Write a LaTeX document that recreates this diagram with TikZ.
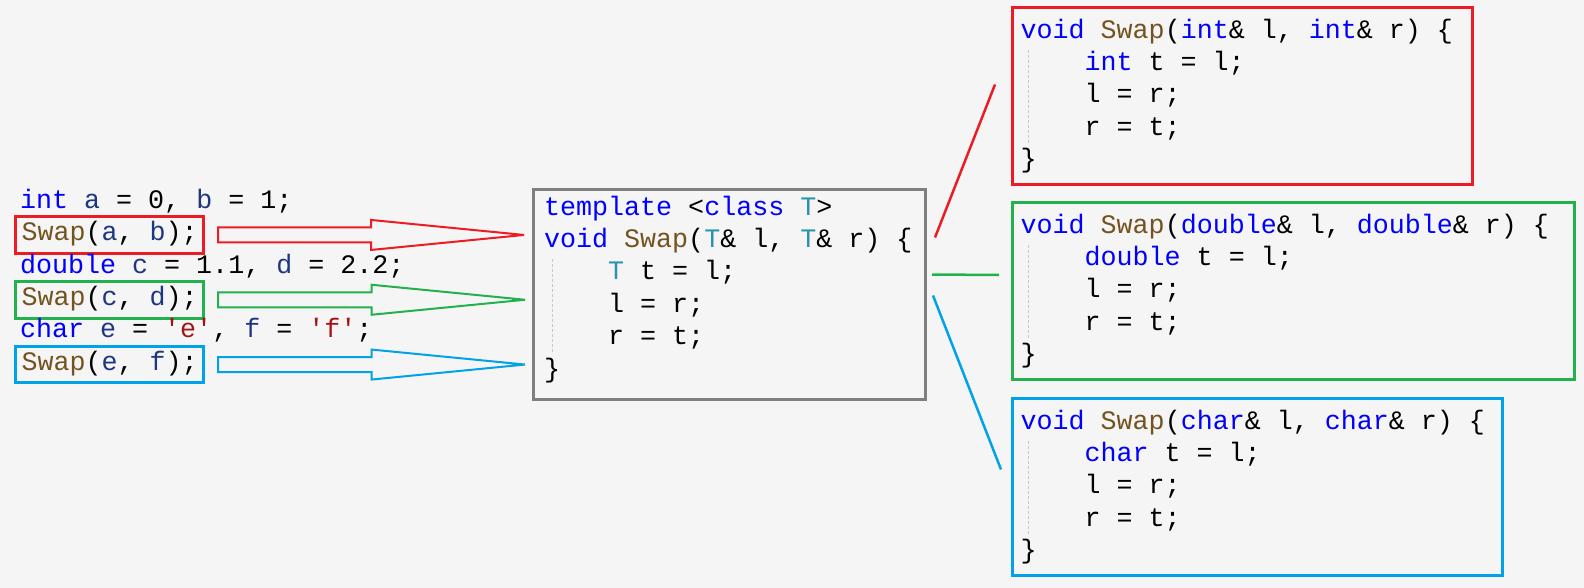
\documentclass[tikz,border=0pt]{standalone}
\usepackage{fontspec}
\setmonofont{Liberation Mono}
\usetikzlibrary{positioning,calc}

\definecolor{pagebg}{RGB}{245,245,245}
\definecolor{kwblue}{RGB}{0,0,255}
\definecolor{fnbrown}{RGB}{116,83,31}
\definecolor{tyteal}{RGB}{43,145,175}
\definecolor{varblue}{RGB}{31,55,127}
\definecolor{strred}{RGB}{163,21,21}
\definecolor{redline}{RGB}{237,28,36}
\definecolor{greenline}{RGB}{34,177,76}
\definecolor{blueline}{RGB}{0,162,232}
\definecolor{grayline}{RGB}{127,127,127}
\definecolor{guidegray}{RGB}{200,200,200}

\newcommand\codesize{\fontsize{26.67pt}{32.4pt}\selectfont\frenchspacing}
\newcommand\ckw[1]{\textcolor{kwblue}{#1}}
\newcommand\cfn[1]{\textcolor{fnbrown}{#1}}
\newcommand\cty[1]{\textcolor{tyteal}{#1}}
\newcommand\cvar[1]{\textcolor{varblue}{#1}}
\newcommand\cstr[1]{\textcolor{strred}{#1}}
\newcommand\codeindent{\hspace*{64pt}}

\tikzset{codeline/.style = {font={\ttfamily\codesize}, anchor=base west,
                            inner xsep=6pt, inner ysep=6pt,
                            text height=18pt, text depth=6.5pt},
         callbox/.style = {codeline, draw=#1, line width=3pt},
         fnbox/.style = {draw=#1, line width=3pt, anchor=north west,
                         minimum height=177pt, inner sep=0pt},
         fnbox/.default = grayline,
         codeblock/.style = {font={\ttfamily\codesize}, align=left, inner sep=0pt},
         guide/.style = {draw=guidegray, line width=1pt, dash pattern=on 3pt off 2pt},
         link/.style = {draw=#1, line width=2.5pt},
         hollow/.style = {draw=#1, line width=2pt, line join=miter,
                          to path={($(\tikztostart)+(0,7.5)$)
                                   -- ($(\tikztostart)!.5!(\tikztotarget)+(0,7.5)$)
                                   -- ($(\tikztostart)!.5!(\tikztotarget)+(0,15)$)
                                   -- (\tikztotarget)
                                   -- ($(\tikztostart)!.5!(\tikztotarget)+(0,-15)$)
                                   -- ($(\tikztostart)!.5!(\tikztotarget)+(0,-7.5)$)
                                   -- ($(\tikztostart)+(0,-7.5)$) -- cycle}}
        }

\begin{document}
\begin{tikzpicture}[x=1pt, y=-1pt]
  \fill[pagebg] (0,0) rectangle (1584,588);
  \useasboundingbox (0,0) rectangle (1584,588);

  % calling code
  \node[codeline] (declA) at (14,208.3) {\ckw{int} \cvar{a} = 0, \cvar{b} = 1;};
  \node[callbox=redline] (callA) at (14,240.7) {\cfn{Swap}(\cvar{a}, \cvar{b});};
  \node[codeline] (declB) at (14,273.1) {\ckw{double} \cvar{c} = 1.1, \cvar{d} = 2.2;};
  \node[callbox=greenline] (callB) at (14,305.5) {\cfn{Swap}(\cvar{c}, \cvar{d});};
  \node[codeline] (declC) at (14,337.9) {\ckw{char} \cvar{e} = \cstr{'e'}, \cvar{f} = \cstr{'f'};};
  \node[callbox=blueline] (callC) at (14,370.3) {\cfn{Swap}(\cvar{e}, \cvar{f});};

  % the template
  \node[fnbox, minimum width=392pt, minimum height=210pt] (tpl) at (532,188) {};
  \node[codeblock, below right=4.3pt and 12pt of tpl.north west] (tplcode)
    {\strut\ckw{template} <\ckw{class} \cty{T}>\\
     \ckw{void} \cfn{Swap}(\cty{T}\& l, \cty{T}\& r) \{\\
     \codeindent\cty{T} t = l;\\
     \codeindent l = r;\\
     \codeindent r = t;\\
     \}};
  \draw[guide] ($(tplcode.north west)+(8,67.1)$) -- ($(tplcode.north west)+(8,160.3)$);

  % the instances
  \node[fnbox=redline, minimum width=460pt] (intfn) at (1011,6) {};
  \node[codeblock, below right=9.3pt and 9.5pt of intfn.north west] (intcode)
    {\strut\ckw{void} \cfn{Swap}(\ckw{int}\& l, \ckw{int}\& r) \{\\
     \codeindent\ckw{int} t = l;\\
     \codeindent l = r;\\
     \codeindent r = t;\\
     \}};
  \draw[guide] ($(intcode.north west)+(8,34.7)$) -- ($(intcode.north west)+(8,127.9)$);

  \node[fnbox=greenline, minimum width=562pt] (dblfn) at (1011,201) {};
  \node[codeblock, below right=9.3pt and 9.5pt of dblfn.north west] (dblcode)
    {\strut\ckw{void} \cfn{Swap}(\ckw{double}\& l, \ckw{double}\& r) \{\\
     \codeindent\ckw{double} t = l;\\
     \codeindent l = r;\\
     \codeindent r = t;\\
     \}};
  \draw[guide] ($(dblcode.north west)+(8,34.7)$) -- ($(dblcode.north west)+(8,127.9)$);

  \node[fnbox=blueline, minimum width=490pt] (chrfn) at (1011,397) {};
  \node[codeblock, below right=9.3pt and 9.5pt of chrfn.north west] (chrcode)
    {\strut\ckw{void} \cfn{Swap}(\ckw{char}\& l, \ckw{char}\& r) \{\\
     \codeindent\ckw{char} t = l;\\
     \codeindent l = r;\\
     \codeindent r = t;\\
     \}};
  \draw[guide] ($(chrcode.north west)+(8,34.7)$) -- ($(chrcode.north west)+(8,127.9)$);

  % calls -> template
  \coordinate (a0) at ($(callA.east)+(13,0)$);
  \coordinate (a1) at ($(tpl.west |- callA.east)+(-8,0)$);
  \coordinate (b0) at ($(callB.east)+(13,0)$);
  \coordinate (b1) at ($(tpl.west |- callB.east)+(-7,0)$);
  \coordinate (c0) at ($(callC.east)+(13,0)$);
  \coordinate (c1) at ($(tpl.west |- callC.east)+(-7,0)$);
  \draw[hollow=redline] (a0) to (a1);
  \draw[hollow=greenline] (b0) to (b1);
  \draw[hollow=blueline] (c0) to (c1);

  % template -> instances
  \draw[link=redline] ($(tpl.east)+(8,-57)$) -- ($(intfn.west)+(-16,-11.5)$);
  \draw[link=greenline] ($(tpl.east)+(5,-20)$) -- ($(dblfn.west)+(-12,-16)$);
  \draw[link=blueline] ($(tpl.east)+(6,1)$) -- ($(chrfn.west)+(-10,-17.5)$);
\end{tikzpicture}
\end{document}
